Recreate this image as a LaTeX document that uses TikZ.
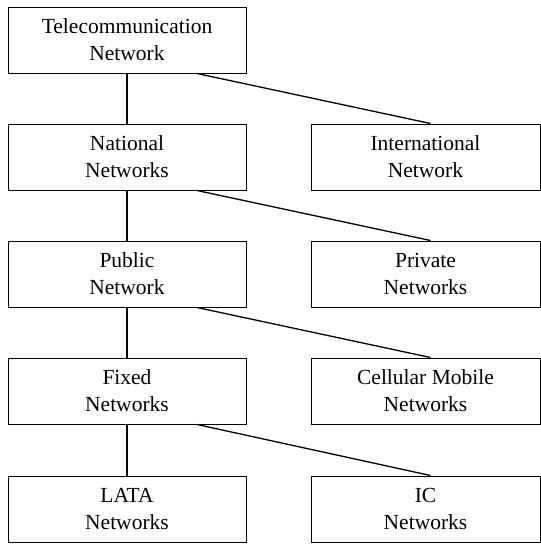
\documentclass[tikz,border=0pt]{standalone}
\usepackage{fontspec}
\setmainfont{Liberation Serif}
\begin{document}
\begin{tikzpicture}[x=1pt,y=-1pt,
  netbox/.style={draw, line width=1pt, rectangle, minimum height=66pt,
    align=center, inner sep=0pt, font=\fontsize{21.5}{27}\selectfont},
  leftbox/.style={netbox, minimum width=238pt},
  rightbox/.style={netbox, minimum width=229pt},
  link/.style={line width=1.3pt}]
\useasboundingbox (0,0) rectangle (541,544);

% left column
\node[leftbox] (tel) at (127,40) {Telecommunication\\Network};
\node[leftbox] (nat) at (127,157) {National\\Networks};
\node[leftbox] (pub) at (127,274) {Public\\Network};
\node[leftbox] (fix) at (127,391) {Fixed\\Networks};
\node[leftbox] (lata) at (127,509) {LATA\\Networks};

% right column
\node[rightbox] (int) at (425.5,157) {International\\Network};
\node[rightbox] (priv) at (425.5,274) {Private\\Networks};
\node[rightbox] (cell) at (425.5,391) {Cellular Mobile\\Networks};
\node[rightbox] (ic) at (425.5,509) {IC\\Networks};

% vertical links
\draw[link] (tel.south) -- (nat.north);
\draw[link] (nat.south) -- (pub.north);
\draw[link] (pub.south) -- (fix.north);
\draw[link] (fix.south) -- (lata.north);

% diagonal links
\draw[link] ([xshift=70pt]tel.south) -- ([xshift=5pt]int.north);
\draw[link] ([xshift=70pt]nat.south) -- ([xshift=5pt]priv.north);
\draw[link] ([xshift=70pt]pub.south) -- ([xshift=5pt]cell.north);
\draw[link] ([xshift=70pt]fix.south) -- ([xshift=5pt]ic.north);
\end{tikzpicture}
\end{document}
